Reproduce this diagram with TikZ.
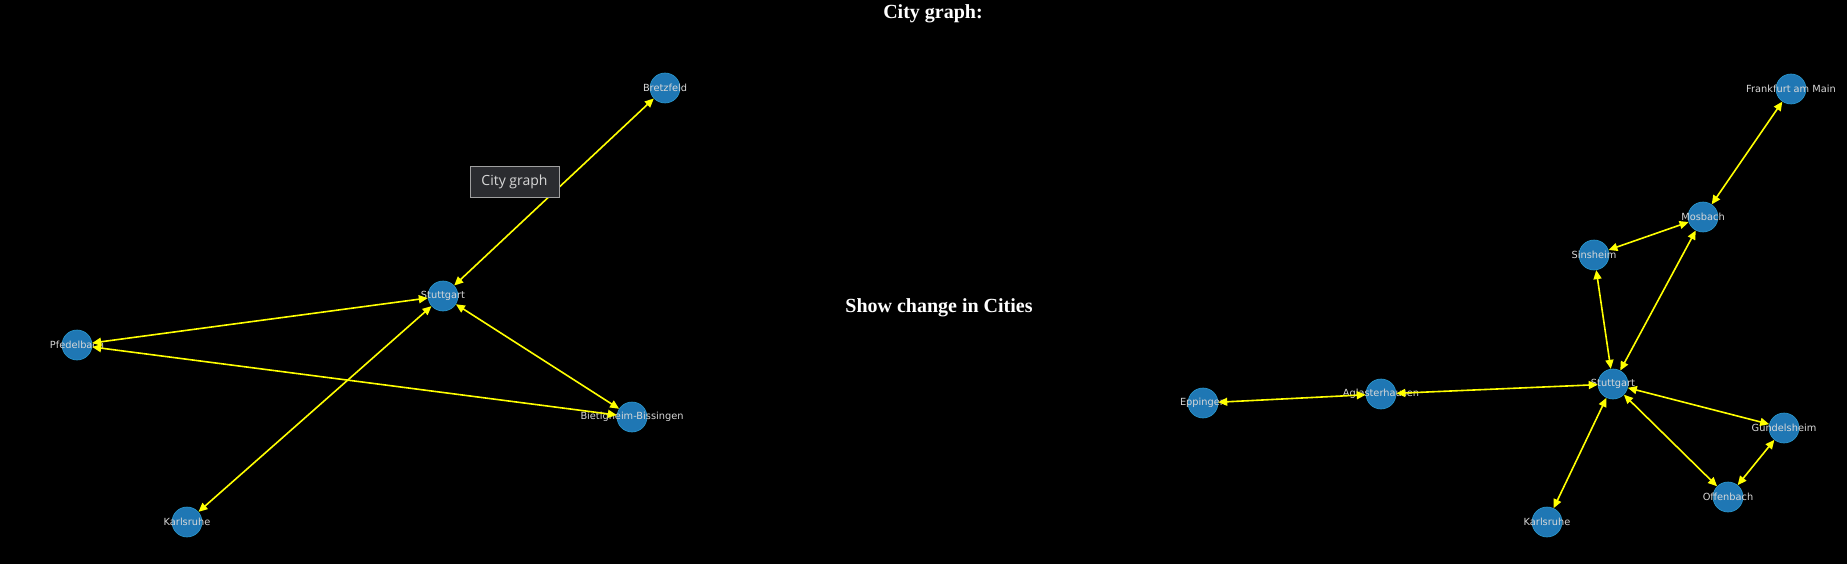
\documentclass[tikz,border=0pt]{standalone}
\usepackage{fontspec}
\setmainfont{Liberation Serif}
\newfontfamily\labfont{DejaVu Sans}
\newfontfamily\tipfont{Open Sans}
\usetikzlibrary{arrows.meta}
\definecolor{nodeblue}{HTML}{1F77B4}
\definecolor{nodeedge}{HTML}{2A9AD0}
\definecolor{edgeyellow}{HTML}{FFFF00}
\definecolor{labgray}{HTML}{D8D8D8}
\definecolor{tipfill}{HTML}{2B2C30}
\definecolor{tipline}{HTML}{A0A0A0}
\begin{document}
\begin{tikzpicture}[x=1pt,y=-1pt,
  city/.style={circle,fill=nodeblue,draw=nodeedge,line width=0.6pt,minimum size=30pt,inner sep=0pt,
    label={[text=labgray,font=\labfont\fontsize{9.8}{11}\selectfont,inner sep=0pt]center:#1}},
  link/.style={draw=edgeyellow,line width=1.6pt,
    {Stealth[length=9pt,width=8pt,inset=0pt]}-{Stealth[length=9pt,width=8pt,inset=0pt]}},
  title/.style={text=white,font=\bfseries\fontsize{20}{24}\selectfont,inner sep=0pt},
  tip/.style={fill=tipfill,draw=tipline,line width=0.8pt,minimum width=89pt,minimum height=31pt,
    inner sep=0pt,text=labgray,font=\tipfont\fontsize{14}{16}\selectfont}]
\useasboundingbox (0,0) rectangle (1847,564);
\fill[black] (0,0) rectangle (1847,564);

\node[title] (t1) at (933,13.5) {City graph:};
\node[title] (t2) at (939,307.5) {Show change in Cities};

% left graph
\node[city=Bretzfeld] (bz) at (665,88) {};
\node[city=Stuttgart] (sl) at (443,296) {};
\node[city=Pfedelbach] (pf) at (77,345) {};
\node[city=Bietigheim-Bissingen] (bb) at (632,417) {};
\node[city=Karlsruhe] (kl) at (187,522) {};
\path[link] (sl) -- (bz);
\path[link] (sl) -- (pf);
\path[link] (sl) -- (bb);
\path[link] (sl) -- (kl);
\path[link] (pf) -- (bb);

% right graph
\node[city=Frankfurt am Main] (ff) at (1791,89) {};
\node[city=Mosbach] (mo) at (1703,217) {};
\node[city=Sinsheim] (si) at (1594,255) {};
\node[city=Stuttgart] (sr) at (1613,384) {};
\node[city=Gundelsheim] (gu) at (1784,428) {};
\node[city=Offenbach] (of) at (1728,497) {};
\node[city=Karlsruhe] (kr) at (1547,522) {};
\node[city=Aglasterhausen] (ag) at (1381,394) {};
\node[city=Eppingen] (ep) at (1203,403) {};
\path[link] (ff) -- (mo);
\path[link] (mo) -- (si);
\path[link] (mo) -- (sr);
\path[link] (si) -- (sr);
\path[link] (sr) -- (ag);
\path[link] (ag) -- (ep);
\path[link] (sr) -- (kr);
\path[link] (sr) -- (gu);
\path[link] (sr) -- (of);
\path[link] (of) -- (gu);

\node[tip] (tt) at (514.5,181.5) {City graph};
\end{tikzpicture}
\end{document}
